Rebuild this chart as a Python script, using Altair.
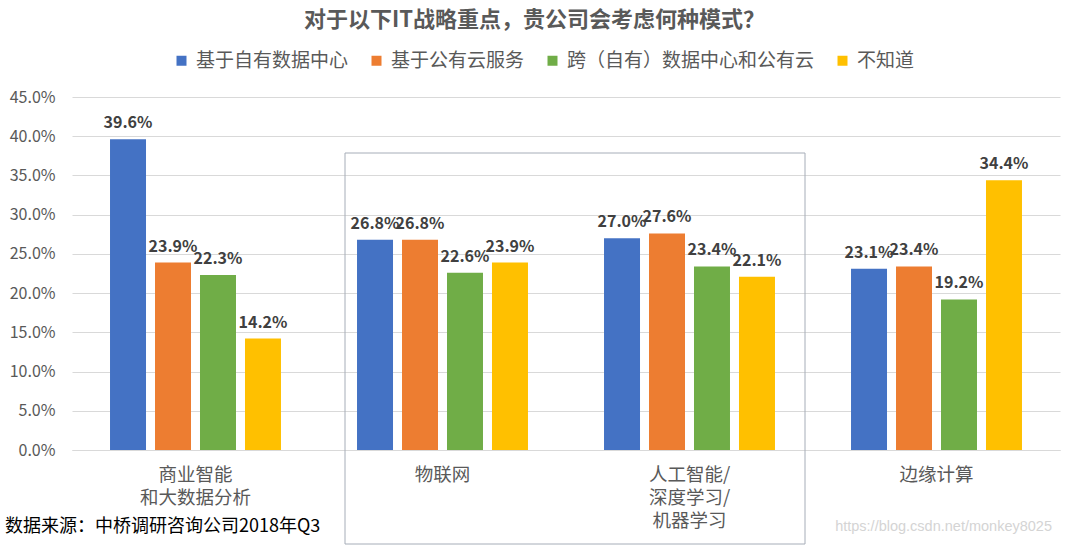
import altair as alt
import pandas as pd

categories = ["商业智能|和大数据分析", "物联网", "人工智能/|深度学习/|机器学习", "边缘计算"]
series = ["基于自有数据中心", "基于公有云服务", "跨（自有）数据中心和公有云", "不知道"]
colors = ["#4472C4", "#ED7D31", "#70AD47", "#FFC000"]
values = {
    "基于自有数据中心": [0.396, 0.268, 0.270, 0.231],
    "基于公有云服务": [0.239, 0.268, 0.276, 0.234],
    "跨（自有）数据中心和公有云": [0.223, 0.226, 0.234, 0.192],
    "不知道": [0.142, 0.239, 0.221, 0.344],
}
y_ticks = [0, 0.05, 0.10, 0.15, 0.20, 0.25, 0.30, 0.35, 0.40, 0.45]

rows = []
for s in series:
    for c, v in zip(categories, values[s]):
        rows.append({"cat": c, "series": s, "value": v})
df = pd.DataFrame(rows)

FONT = "Noto Sans CJK SC"

x_enc = alt.X("cat:N", sort=categories, title=None,
              scale=alt.Scale(paddingInner=0, paddingOuter=0),
              axis=alt.Axis(labelExpr="split(datum.label, '|')", labelAngle=0,
                            ticks=False, domain=True, domainColor="#D9D9D9",
                            labelFontSize=18.5, labelColor="#595959", labelFont=FONT,
                            labelPadding=15, labelLineHeight=23, labelBaseline="top"))
xo_enc = alt.XOffset("series:N", sort=series,
                     scale=alt.Scale(paddingInner=0.2, paddingOuter=0.845))
y_enc = alt.Y("value:Q", title=None,
              scale=alt.Scale(domain=[0, 0.45]),
              axis=alt.Axis(values=y_ticks, format=".1%", ticks=False, domain=False,
                            labelOverlap=False, tickCount=10,
                            gridColor="#D9D9D9", labelFontSize=16, labelColor="#595959",
                            labelFont=FONT, labelPadding=17))

base = alt.Chart(df)

bars = base.mark_bar().encode(
    x=x_enc, xOffset=xo_enc, y=y_enc,
    color=alt.Color("series:N", sort=series,
                    scale=alt.Scale(domain=series, range=colors),
                    legend=alt.Legend(title=None, orient="none", direction="horizontal",
                                      legendX=100, legendY=-46, symbolType="square",
                                      symbolSize=100, symbolStrokeWidth=0,
                                      labelFontSize=19, labelColor="#595959",
                                      labelFont=FONT, columnPadding=18, labelOffset=5,
                                      labelLimit=400)),
)

labels = base.mark_text(dy=-16, fontSize=16, fontWeight="bold", color="#404040",
                        font=FONT).encode(
    x=x_enc, xOffset=xo_enc, y=y_enc,
    text=alt.Text("value:Q", format=".1%"),
)

box = alt.Chart(alt.Data(values=[{}])).mark_rect(
    fill=None, stroke="#A6ADB8", strokeWidth=1).encode(
    x=alt.value(273), x2=alt.value(733), y=alt.value(56), y2=alt.value(447))

source = alt.Chart(alt.Data(values=[{}])).mark_text(
    align="left", baseline="middle", fontSize=18, color="#000000", font=FONT).encode(
    x=alt.value(-67), y=alt.value(430), text=alt.value("数据来源：中桥调研咨询公司2018年Q3"))

watermark = alt.Chart(alt.Data(values=[{}])).mark_text(
    align="right", baseline="middle", fontSize=14.5, color="#D4D4D4",
    font="Liberation Sans").encode(
    x=alt.value(980), y=alt.value(430), text=alt.value("https://blog.csdn.net/monkey8025"))

chart = alt.layer(bars, labels, box, source, watermark).properties(
    width=988, height=353,
    autosize=alt.AutoSizeParams(type="none"),
    padding={"left": 72, "top": 97, "right": 22, "bottom": 95},
    title=alt.TitleParams("对于以下IT战略重点，贵公司会考虑何种模式？", fontSize=22,
                          fontWeight="bold", color="#595959", font=FONT,
                          anchor="middle", frame="bounds", dx=2, offset=19),
).configure_view(stroke=None)

chart.save("out.html", embed_options={"renderer": "svg", "actions": False})
